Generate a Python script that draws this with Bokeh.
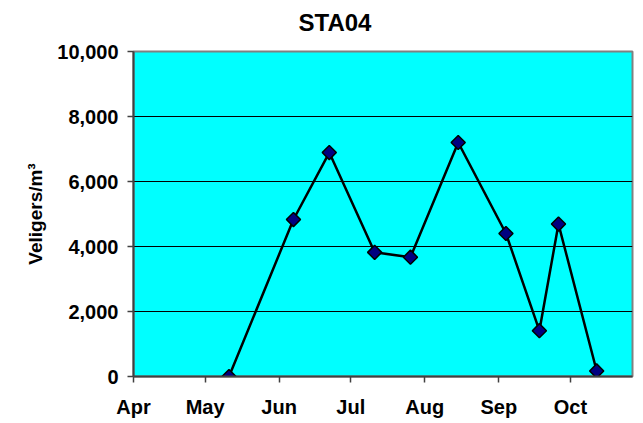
import math
import pandas as pd
from bokeh.plotting import figure
from bokeh.models import (Range1d, FixedTicker, DatetimeTickFormatter, NumeralTickFormatter,
                          ColumnDataSource)
from bokeh.embed import file_html
from bokeh.resources import INLINE

# Sampling dates and veliger densities at station STA04
sample_dates = ["2007-05-11", "2007-06-07", "2007-06-22", "2007-07-11", "2007-07-26",
                "2007-08-15", "2007-09-04", "2007-09-18", "2007-09-26", "2007-10-12"]
veligers = [0, 4830, 6890, 3820, 3670, 7200, 4400, 1410, 4690, 170]

# Month tick positions (first of each month) and y ticks
month_starts = ["2007-04-01", "2007-05-01", "2007-06-01", "2007-07-01",
                "2007-08-01", "2007-09-01", "2007-10-01"]
y_ticks = [0, 2000, 4000, 6000, 8000, 10000]
x_start, x_end = "2007-04-01", "2007-10-27"
chart_title = "STA04"

FONT = "Liberation Sans"

def ms(d):
    return pd.Timestamp(d).value // 10**6

src = ColumnDataSource(dict(x=pd.to_datetime(sample_dates), y=veligers))

p = figure(width=643, height=423, x_axis_type="datetime",
           x_range=Range1d(ms(x_start), ms(x_end)), y_range=Range1d(0, 10000),
           output_backend="svg", toolbar_location=None,
           min_border_left=133, min_border_right=11, min_border_top=51, min_border_bottom=47)

p.background_fill_color = "#00FFFF"
p.border_fill_color = "white"
p.outline_line_color = "#808080"
p.outline_line_width = 2

# Title: a trailing blank line lifts the text away from the plot frame
p.title.text = chart_title + "\n"
p.title.text_font = FONT
p.title.text_font_size = "24px"
p.title.text_font_style = "bold"
p.title.text_color = "black"
p.title.align = "left"
p.title.offset = 165
p.title.vertical_align = "bottom"
p.title.standoff = -22

# Grid: horizontal black lines only
p.xgrid.grid_line_color = None
p.ygrid.grid_line_color = "black"
p.ygrid.grid_line_width = 1
p.ygrid.ticker = FixedTicker(ticks=y_ticks)

# X axis: month starts
p.xaxis.ticker = FixedTicker(ticks=[ms(d) for d in month_starts])
p.xaxis.formatter = DatetimeTickFormatter(days="%b", months="%b", years="%b",
                                          hours="%b", minutes="%b", seconds="%b",
                                          milliseconds="%b", microseconds="%b")
# Y axis
p.yaxis.ticker = FixedTicker(ticks=y_ticks)
p.yaxis.formatter = NumeralTickFormatter(format="0,0")
p.yaxis.axis_label = "Veligers/m³"
p.yaxis.axis_label_text_font = FONT
p.yaxis.axis_label_text_font_size = "19px"
p.yaxis.axis_label_text_font_style = "bold"
p.yaxis.axis_label_text_color = "black"
p.yaxis.axis_label_standoff = 8

for ax in (p.xaxis, p.yaxis):
    ax.axis_line_color = "#404040"
    ax.axis_line_width = 2
    ax.major_tick_line_color = "#404040"
    ax.major_tick_line_width = 1.5
    ax.major_tick_out = 6
    ax.major_tick_in = 0
    ax.minor_tick_line_color = None
    ax.major_label_text_font = FONT
    ax.major_label_text_font_size = "20px"
    ax.major_label_text_font_style = "bold"
    ax.major_label_text_color = "black"

p.xaxis.major_label_standoff = 13
p.yaxis.major_label_standoff = 9

p.line("x", "y", source=src, line_color="black", line_width=2.5)
p.scatter("x", "y", source=src, marker="square", size=10, angle=math.pi / 4,
          fill_color="#000080", line_color="black", line_width=1.5)

open("out.html", "w").write(file_html(p, INLINE))
